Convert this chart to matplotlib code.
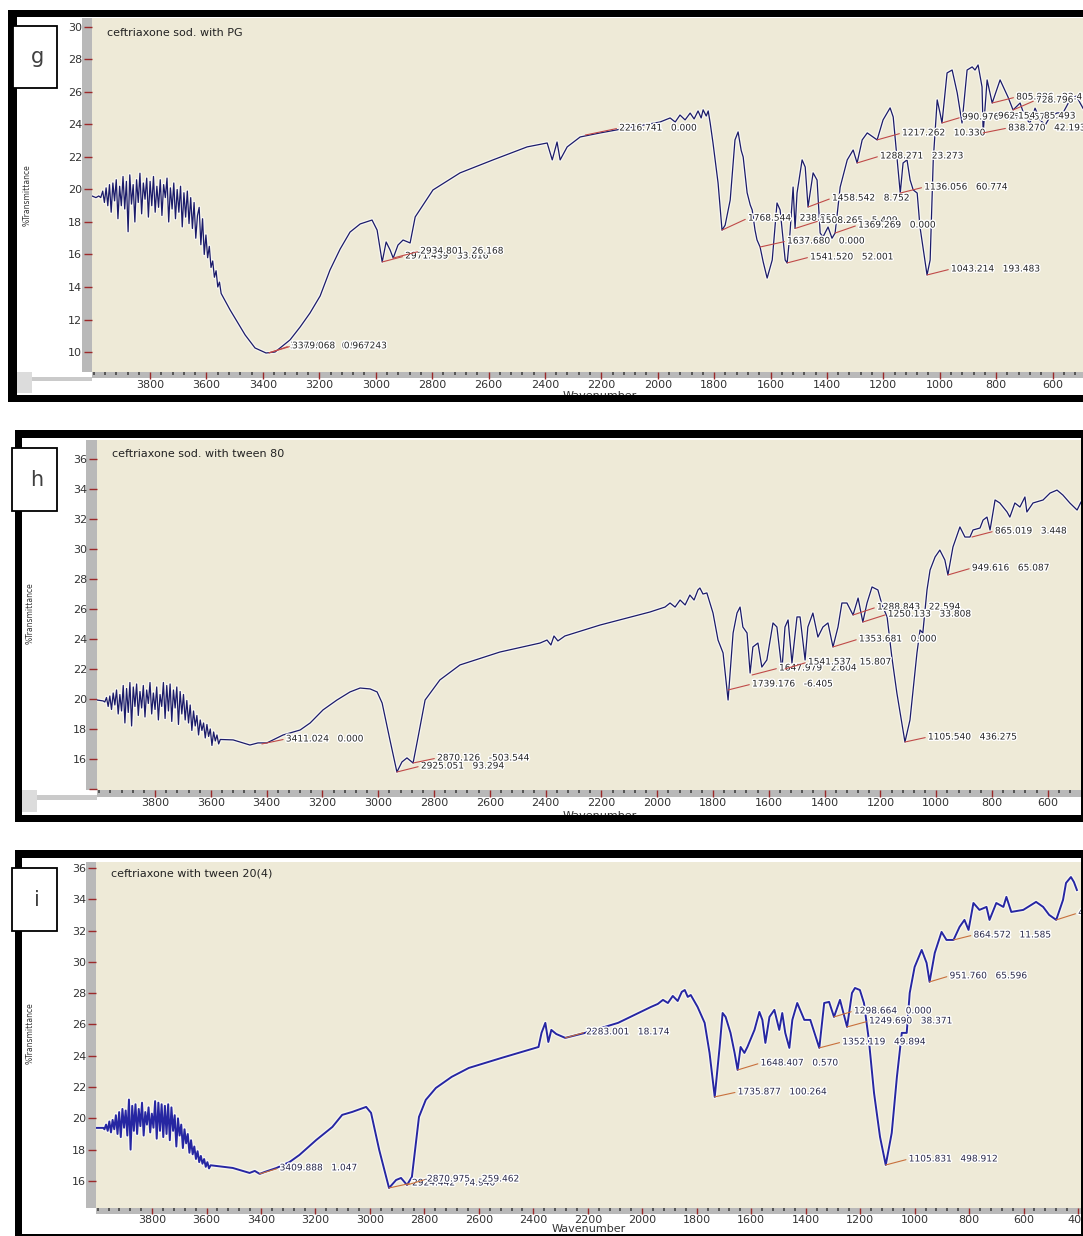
import matplotlib
matplotlib.use("Agg")
import matplotlib.pyplot as plt
import matplotlib.patheffects as pe
from matplotlib.patches import Rectangle
from matplotlib.ticker import FixedLocator, MultipleLocator

W, H = 1083, 1236

# ---------------- spectrum g : ceftriaxone sod. with PG ----------------
g_wn = [4006, 3992, 3982, 3975, 3968,
        3962, 3956, 3950, 3944, 3938, 3932, 3926, 3920, 3914, 3908,
        3902, 3896, 3890, 3884, 3878, 3872, 3866, 3860, 3854, 3848,
        3842, 3836, 3830, 3824, 3818, 3812, 3806, 3800, 3794, 3788,
        3782, 3776, 3770, 3764, 3758, 3752, 3746, 3740, 3734, 3728,
        3722, 3716, 3710, 3704, 3698, 3692, 3686, 3680, 3674, 3668,
        3662, 3656, 3650, 3644, 3638, 3632, 3626, 3620, 3614, 3608,
        3602, 3596, 3590, 3584, 3578, 3572, 3566, 3560, 3554, 3548,
        3516, 3463, 3428, 3389, 3357, 3304, 3268, 3233, 3197, 3162,
        3126, 3091, 3055, 3013, 2995, 2977, 2963, 2949, 2938, 2921,
        2903, 2878, 2860, 2797, 2701, 2584, 2463, 2392, 2374, 2357,
        2346, 2321, 2275, 2204, 2109, 1992, 1956, 1938, 1921, 1903,
        1885, 1871, 1857, 1846, 1839, 1828, 1821, 1814, 1804, 1786,
        1772, 1761, 1743, 1726, 1715, 1704, 1697, 1683, 1672, 1665,
        1655, 1648, 1637, 1626, 1612, 1594, 1577, 1566, 1548, 1541,
        1531, 1520, 1513, 1506, 1488, 1477, 1467, 1449, 1435, 1424,
        1414, 1396, 1382, 1371, 1353, 1328, 1307, 1293, 1275, 1257,
        1222, 1201, 1176, 1165, 1151, 1140, 1130, 1116, 1105, 1094,
        1080, 1070, 1045, 1034, 1023, 1009, 999, 992, 974, 956,
        938, 921, 903, 885, 875, 864, 850, 846, 832, 814,
        786, 758, 740, 715, 697, 680, 662, 644, 626, 609,
        584, 563, 538, 516, 502, 492]
g_t = [19.6, 19.5, 19.6, 19.5, 19.9,
       19.2, 20.1, 19.0, 20.3, 18.6, 20.4, 19.3, 20.6, 18.2, 20.2,
       19.0, 20.8, 18.8, 20.5, 17.4, 20.9, 19.1, 20.3, 18.0, 20.6,
       19.2, 21.0, 18.5, 20.4, 19.4, 20.7, 18.3, 20.5, 19.0, 20.8,
       18.6, 20.2, 18.9, 20.6, 18.4, 20.3, 19.5, 20.7, 18.0, 20.1,
       18.8, 20.4, 18.2, 20.0, 18.6, 20.2, 17.7, 19.8, 18.3, 19.9,
       17.9, 19.5, 17.6, 19.2, 17.0, 18.4, 18.9, 16.6, 18.2, 16.0,
       17.2, 15.8, 16.5, 15.2, 15.6, 14.6, 15.0, 14.0, 14.3, 13.6,
       12.58, 11.05, 10.25, 9.94, 10.0, 10.74, 11.54, 12.4, 13.45, 15.05,
       16.34, 17.38, 17.88, 18.12, 17.5, 15.54, 16.77, 16.28, 15.78, 16.58,
       16.89, 16.71, 18.31, 19.97, 21.02, 21.82, 22.62, 22.86, 21.82, 22.92,
       21.82, 22.62, 23.23, 23.48, 23.78, 24.15, 24.4, 24.15, 24.58, 24.28,
       24.7, 24.34, 24.83, 24.4, 24.9, 24.52, 24.83, 24.09, 22.86, 20.4,
       17.5, 17.8, 19.35, 23.05, 23.54, 22.4, 22.0, 19.8, 19.05, 18.74,
       17.5, 16.9, 16.46, 15.54, 14.55, 15.66, 19.17, 18.74, 15.66, 15.48,
       17.32, 20.15, 17.6, 19.78, 21.82, 21.38, 18.92, 21.02, 20.58, 17.32,
       17.08, 17.69, 17.0, 17.32, 20.15, 21.82, 22.43, 21.63, 23.05, 23.48,
       23.05, 24.28, 25.02, 24.46, 21.82, 19.78, 21.63, 21.82, 20.58, 19.97,
       19.78, 17.69, 14.74, 15.66, 21.82, 25.51, 24.71, 24.09, 27.17, 27.35,
       25.94, 24.09, 27.35, 27.54, 27.35, 27.66, 26.31, 23.48, 26.74, 25.32,
       26.74, 25.69, 24.89, 25.32, 24.4, 24.09, 25.0, 24.28, 23.97, 24.46,
       24.71, 24.71, 25.51, 25.75, 25.32, 25.0]

g_pk_wn = [3378, 3378, 2977, 2938, 2257, 1772, 1637, 1541, 1467, 1513,
           1371, 1293, 1222, 1140, 1045, 992, 992, 846, 814, 740]
g_pk_t = [9.95, 9.95, 15.54, 15.78, 23.35, 17.5, 16.46, 15.48, 18.92, 17.6,
          17.32, 21.63, 23.05, 19.78, 14.74, 24.09, 24.09, 23.48, 25.32, 24.89]
g_pk_txt = ["3378.068   0.975", "3379.068   0.967243",
            "2971.439   33.616", "2934.801   26.168",
            "2216.741   0.000", "1768.544   238.891",
            "1637.680   0.000", "1541.520   52.001",
            "1458.542   8.752", "1508.265   5.409",
            "1369.269   0.000", "1288.271   23.273",
            "1217.262   10.330", "1136.056   60.774",
            "1043.214   193.483", "990.976   151.857",
            "962.154   85.493", "838.270   42.193",
            "805.886   23.401", "728.796   17.540"]

# ---------------- spectrum h : ceftriaxone sod. with tween 80 ----------------
h_wn = [4008, 3986,
        3980, 3974, 3968, 3962, 3956, 3950, 3944, 3938, 3932, 3926,
        3920, 3914, 3908, 3902, 3896, 3890, 3884, 3878, 3872, 3866,
        3860, 3854, 3848, 3842, 3836, 3830, 3824, 3818, 3812, 3806,
        3800, 3794, 3788, 3782, 3776, 3770, 3764, 3758, 3752, 3746,
        3740, 3734, 3728, 3722, 3716, 3710, 3704, 3698, 3692, 3686,
        3680, 3674, 3668, 3662, 3656, 3650, 3644, 3638, 3632, 3626,
        3620, 3614, 3608, 3602, 3596, 3590, 3584, 3578, 3572, 3566,
        3520, 3460, 3431, 3399, 3341, 3280, 3244, 3198, 3148, 3101,
        3065, 3029, 3004, 2986, 2958, 2933, 2915, 2897, 2875, 2857,
        2832, 2779, 2707, 2564, 2420, 2395, 2381, 2370, 2356, 2331,
        2205, 2026, 1972, 1954, 1936, 1918, 1900, 1883, 1868, 1854,
        1847, 1836, 1822, 1800, 1782, 1764, 1746, 1728, 1714, 1703,
        1693, 1678, 1667, 1657, 1639, 1625, 1607, 1585, 1571, 1553,
        1542, 1531, 1517, 1499, 1488, 1470, 1460, 1442, 1424, 1406,
        1388, 1370, 1352, 1338, 1320, 1298, 1280, 1263, 1248, 1230,
        1209, 1194, 1176, 1159, 1141, 1112, 1094, 1069, 1058, 1048,
        1033, 1022, 1004, 987, 969, 958, 940, 915, 897, 879,
        868, 843, 832, 818, 807, 789, 772, 746, 736, 718,
        700, 682, 675, 653, 617, 592, 567, 546, 521, 495,
        481]
h_t = [19.93, 19.87,
       19.8, 20.1, 19.5, 20.2, 19.3, 20.4, 19.6, 20.6, 19.0, 20.3,
       19.2, 20.9, 18.4, 20.7, 19.1, 21.1, 18.2, 20.8, 19.5, 21.0,
       18.9, 20.5, 19.4, 20.9, 18.8, 20.6, 19.7, 21.1, 19.0, 20.4,
       19.3, 20.8, 18.6, 20.3, 19.5, 21.1, 18.7, 20.9, 19.2, 21.0,
       18.5, 20.6, 19.4, 20.8, 18.3, 20.5, 19.0, 20.3, 18.6, 19.9,
       18.4, 19.6, 17.9, 19.2, 18.2, 18.9, 17.6, 18.6, 17.9, 18.4,
       17.4, 18.3, 17.5, 18.0, 16.9, 17.8, 17.2, 17.6, 17.0, 17.3,
       17.27, 16.93, 17.07, 17.07, 17.6, 17.93, 18.4, 19.27, 19.93, 20.47,
       20.73, 20.67, 20.47, 19.73, 17.27, 15.13, 15.8, 16.07, 15.73, 17.47,
       19.93, 21.27, 22.27, 23.13, 23.73, 23.93, 23.6, 24.2, 23.87, 24.2,
       24.93, 25.8, 26.13, 26.4, 26.13, 26.6, 26.27, 26.93, 26.6, 27.27,
       27.4, 27.0, 27.07, 25.73, 23.93, 23.07, 19.93, 24.4, 25.73, 26.13,
       24.8, 24.4, 21.73, 23.47, 23.73, 22.13, 22.6, 25.07, 24.8, 21.93,
       24.8, 25.27, 22.4, 25.47, 25.47, 22.6, 24.8, 25.73, 24.13, 24.8,
       25.07, 23.47, 24.8, 26.4, 26.4, 25.6, 26.73, 25.13, 26.4, 27.47,
       27.27, 26.27, 25.47, 22.8, 20.4, 17.13, 18.6, 23.07, 24.6, 24.4,
       27.27, 28.6, 29.47, 29.93, 29.27, 28.27, 30.13, 31.47, 30.8, 30.8,
       31.27, 31.4, 31.93, 32.13, 31.27, 33.27, 33.07, 32.47, 32.13, 33.07,
       32.8, 33.47, 32.47, 33.07, 33.27, 33.73, 33.93, 33.6, 33.07, 32.6,
       33.13]

h_pk_wn = [3417, 2933, 2875, 1746, 1660, 1542, 1370, 1298, 1263, 1112, 958, 872]
h_pk_t = [17.0, 15.13, 15.73, 20.6, 21.6, 22.0, 23.47, 25.6, 25.13, 17.13, 28.27, 30.8]
h_pk_txt = ["3411.024   0.000", "2925.051   93.294", "2870.126   -503.544",
            "1739.176   -6.405", "1647.979   2.604", "1541.537   15.807",
            "1353.681   0.000", "1288.843   22.594", "1250.133   33.808",
            "1105.540   436.275", "949.616   65.087", "865.019   3.448"]

# ---------------- spectrum i : ceftriaxone with tween 20(4) ----------------
i_wn = [4006, 3979,
        3975, 3969, 3963, 3957, 3951, 3945, 3939, 3933, 3927, 3921,
        3915, 3909, 3903, 3897, 3891, 3885, 3879, 3873, 3867, 3861,
        3855, 3849, 3843, 3837, 3831, 3825, 3819, 3813, 3807, 3801,
        3795, 3789, 3783, 3777, 3771, 3765, 3759, 3753, 3747, 3741,
        3735, 3729, 3723, 3717, 3711, 3705, 3699, 3693, 3687, 3681,
        3675, 3669, 3663, 3657, 3651, 3645, 3639, 3633, 3627, 3621,
        3615, 3609, 3603, 3597, 3591, 3585,
        3504, 3442, 3423, 3405, 3387, 3343, 3295, 3259, 3197, 3138,
        3102, 3065, 3014, 2996, 2966, 2930, 2904, 2886, 2864, 2846,
        2820, 2795, 2758, 2700, 2637, 2517, 2381, 2370, 2356, 2345,
        2334, 2316, 2283, 2210, 2089, 1968, 1943, 1924, 1906, 1888,
        1870, 1855, 1844, 1833, 1822, 1797, 1771, 1753, 1734, 1716,
        1705, 1694, 1676, 1661, 1650, 1639, 1625, 1614, 1588, 1570,
        1559, 1548, 1533, 1515, 1497, 1486, 1475, 1460, 1449, 1431,
        1405, 1383, 1350, 1332, 1314, 1296, 1274, 1248, 1230, 1219,
        1201, 1186, 1168, 1149, 1127, 1106, 1084, 1065, 1047, 1029,
        1018, 1000, 974, 956, 945, 926, 901, 883, 857, 835,
        817, 802, 784, 762, 736, 725, 700, 674, 663, 645,
        601, 554, 528, 506, 480, 455, 444, 426, 415, 404]
i_t = [19.39, 19.39,
       19.3, 19.6, 19.2, 19.8, 19.1, 19.9, 19.3, 20.2, 19.0, 20.4,
       18.8, 20.6, 19.4, 20.5, 18.9, 21.2, 18.0, 20.8, 19.2, 20.9,
       19.0, 20.6, 19.5, 21.0, 18.9, 20.4, 19.6, 20.7, 19.1, 20.3,
       19.4, 21.1, 18.7, 21.0, 19.2, 20.9, 18.8, 20.8, 19.0, 20.9,
       18.6, 20.7, 19.2, 20.2, 18.2, 20.0, 18.9, 19.6, 18.1, 19.3,
       18.4, 19.0, 17.8, 18.6, 17.7, 18.2, 17.4, 17.9, 17.2, 17.6,
       17.1, 17.4, 16.9, 17.2, 16.8, 17.0,
       16.83, 16.51, 16.64, 16.45, 16.57, 16.83, 17.21, 17.66, 18.62, 19.45,
       20.22, 20.41, 20.73, 20.35, 17.98, 15.55, 16.06, 16.19, 15.74, 16.26,
       20.09, 21.18, 21.94, 22.65, 23.22, 23.86, 24.56, 25.46, 26.1, 24.88,
       25.65, 25.39, 25.14, 25.46, 26.1, 27.12, 27.31, 27.57, 27.37, 27.82,
       27.5, 28.08, 28.2, 27.76, 27.88, 27.12, 26.1, 24.18, 21.37, 24.56,
       26.73, 26.48, 25.46, 24.18, 23.09, 24.56, 24.18, 24.56, 25.65, 26.8,
       26.29, 24.82, 26.48, 26.93, 25.65, 26.73, 25.46, 24.5, 26.29, 27.37,
       26.29, 26.29, 24.5, 27.37, 27.44, 26.48, 27.57, 25.84, 28.01, 28.33,
       28.2, 27.37, 25.01, 21.62, 18.81, 17.02, 19.07, 22.65, 25.46, 25.46,
       28.01, 29.67, 30.76, 29.93, 28.72, 30.57, 31.91, 31.4, 31.4, 32.23,
       32.68, 32.04, 33.76, 33.32, 33.51, 32.68, 33.76, 33.51, 34.15, 33.19,
       33.32, 33.83, 33.51, 33.0, 32.68, 33.96, 35.04, 35.42, 35.1, 34.59]

i_pk_wn = [3405, 2930, 2864, 2283, 1734, 1650, 1350, 1296, 1248, 1106, 945, 857, 480]
i_pk_t = [16.45, 15.55, 15.74, 25.14, 21.37, 23.09, 24.5, 26.48, 25.84, 17.02, 28.72, 31.4, 32.68]
i_pk_txt = ["3409.888   1.047", "2924.442   74.940", "2870.975   -259.462",
            "2283.001   18.174", "1735.877   100.264", "1648.407   0.570",
            "1352.119   49.894", "1298.664   0.000", "1249.690   38.371",
            "1105.831   498.912", "951.760   65.596", "864.572   11.585",
            "476.281   21.563"]

# label offsets (pixels right, pixels up) from each peak to its text
g_off = [(21, 7), (23, 7), (23, 6), (27, 7), (34, 7), (26, 12), (27, 6), (23, 6),
         (24, 9), (25, 8), (23, 8), (23, 7), (25, 7), (24, 6), (24, 6), (20, 6),
         (56, 7), (25, 5), (24, 6), (23, 10)]
g_lead = [True] * 16 + [False] + [True] * 3
h_off = [(24, 5), (24, 6), (24, 5), (24, 6), (27, 7), (23, 7), (26, 8), (24, 8),
         (25, 8), (23, 5), (24, 7), (23, 6)]
h_lead = [True] * 12
i_off = [(20, 6), (23, 5), (20, 6), (21, 6), (23, 5), (23, 7), (23, 6), (20, 6),
         (22, 6), (23, 6), (20, 6), (20, 5), (22, 7)]
i_lead = [True] * 13

BEIGE = "#eeead7"
STRIP = "#b9b9b9"
TICK_RED = "#9b2a2a"

fig = plt.figure(figsize=(W / 100, H / 100), dpi=100)


def frac(x0, y0, x1, y1):
    return [x0 / W, 1 - y1 / H, (x1 - x0) / W, (y1 - y0) / H]


def rect(x0, y0, x1, y1, color, z, ec="none", lw=0):
    r = Rectangle((x0 / W, 1 - y1 / H), (x1 - x0) / W, (y1 - y0) / H,
                  transform=fig.transFigure, facecolor=color, edgecolor=ec,
                  linewidth=lw, zorder=z)
    fig.add_artist(r)


def ftext(x, y, s, **kw):
    fig.text(x / W, 1 - y / H, s, **kw)


panels = [
    dict(plot=(92, 18, 1083, 372), ystrip=82, xstrip=378, xlim=(4006, 492), ylim=(8.77, 30.55),
         yticks=list(range(10, 31, 2)), skip=[], title="ceftriaxone sod. with PG", ty=33,
         wave=(600, 396), box=(13, 26, 57, 88), letter="g", trans=(27, 195),
         border=dict(left=(8, 10, 17, 402), top=(8, 10, 1083, 17), bottom=(8, 395, 1083, 402)),
         shadow=[(17, 372, 32, 393, "#dcdcdc"), (32, 377, 92, 381, "#cacaca")],
         line="#1b1b6a", lw=0.9, lead="#c04a48", txt="#262626", xlen=5, xpad=1.0),
    dict(plot=(97, 440, 1081, 790), ystrip=86, xstrip=797, xlim=(4008, 481), ylim=(13.93, 37.27),
         yticks=list(range(14, 37, 2)), skip=[14], title="ceftriaxone sod. with tween 80", ty=454,
         wave=(600, 816), box=(12, 448, 57, 511), letter="h", trans=(30, 613),
         border=dict(left=(15, 430, 22, 822), top=(15, 430, 1083, 438), bottom=(15, 815, 1083, 822),
                     right=(1081, 430, 1083, 822)),
         shadow=[(22, 790, 37, 812, "#dcdcdc"), (37, 795, 97, 800, "#cacaca")],
         line="#1b1b6a", lw=0.9, lead="#c04a48", txt="#262626", xlen=5, xpad=1.0),
    dict(plot=(96, 862, 1081, 1208), ystrip=86, xstrip=1214, xlim=(4006, 389), ylim=(14.27, 36.38),
         yticks=list(range(16, 37, 2)), skip=[], title="ceftriaxone with tween 20(4)", ty=874,
         wave=(589, 1229), box=(12, 868, 57, 931), letter="i", trans=(30, 1033),
         border=dict(left=(15, 850, 22, 1236), top=(15, 850, 1083, 858), bottom=(15, 1234, 1083, 1236),
                     right=(1081, 850, 1083, 1236)),
         shadow=[],
         line="#2626a2", lw=1.4, lead="#c8703c", txt="#2a2a4a", xlen=4, xpad=0.8),
]

series = [
    (g_wn, g_t, g_pk_wn, g_pk_t, g_pk_txt, g_off, g_lead),
    (h_wn, h_t, h_pk_wn, h_pk_t, h_pk_txt, h_off, h_lead),
    (i_wn, i_t, i_pk_wn, i_pk_t, i_pk_txt, i_off, i_lead),
]

halo_txt = [pe.withStroke(linewidth=2, foreground="white")]

for cfg, (wn, t, pw, pt, ptxt, poff, plead) in zip(panels, series):
    x0, y0, x1, y1 = cfg["plot"]
    ax = fig.add_axes(frac(x0, y0, x1, y1))
    ax.set_facecolor(BEIGE)
    ax.plot(wn, t, color=cfg["line"], lw=cfg["lw"],
            path_effects=[pe.Stroke(linewidth=cfg["lw"] + 1.8, foreground="white", alpha=0.6),
                          pe.Normal()])
    ax.set_xlim(*cfg["xlim"])
    ax.set_ylim(*cfg["ylim"])
    for s in ax.spines.values():
        s.set_visible(False)

    ax.xaxis.set_major_locator(FixedLocator(list(range(3800, 399, -200))))
    ax.xaxis.set_minor_locator(MultipleLocator(40))
    ax.set_yticks(cfg["yticks"],
                  labels=["" if v in cfg["skip"] else str(v) for v in cfg["yticks"]])
    ax.tick_params(axis="y", which="major", direction="out", length=6, width=1.0,
                   color=TICK_RED, labelsize=8, labelcolor="#333333", pad=1)
    ax.tick_params(axis="x", which="major", direction="out", length=cfg["xlen"], width=1.0,
                   color=TICK_RED, labelsize=8, labelcolor="#333333", pad=cfg["xpad"])
    ax.tick_params(axis="x", which="minor", direction="out", length=2, width=1.2,
                   color="#444444")

    # peak labels with leader lines
    for w, v, s, (dx, dy), lead in zip(pw, pt, ptxt, poff, plead):
        kw = {}
        if lead:
            kw["arrowprops"] = dict(arrowstyle="-", color=cfg["lead"], lw=0.8,
                                    shrinkA=0, shrinkB=0, relpos=(0, 0.5))
        ax.annotate(s, xy=(w, v), xytext=(dx, dy), textcoords="offset pixels",
                    ha="left", va="center", fontsize=6.5, color=cfg["txt"],
                    annotation_clip=False, clip_on=True, path_effects=halo_txt, **kw)

    # grey axis strips
    rect(cfg["ystrip"], y0, x0, y1, STRIP, -1)
    rect(x0, y1, x1, cfg["xstrip"], STRIP, -1)
    for sx0, sy0, sx1, sy1, c in cfg["shadow"]:
        rect(sx0, sy0, sx1, sy1, c, -1)

    ftext(x0 + 15, cfg["ty"], cfg["title"], ha="left", va="center", fontsize=8,
          color="#222222", zorder=3)
    ftext(cfg["wave"][0], cfg["wave"][1], "Wavenumber", ha="center", va="center",
          fontsize=8, color="#333333", zorder=3)
    ftext(cfg["trans"][0], cfg["trans"][1], "%Transmittance", ha="center", va="center",
          rotation=90, fontsize=5.5, color="#333333", zorder=3)

    # black frame around each panel
    for bx0, by0, bx1, by1 in cfg["border"].values():
        rect(bx0, by0, bx1, by1, "black", 5)

    # panel letter box
    bx0, by0, bx1, by1 = cfg["box"]
    rect(bx0, by0, bx1, by1, "white", 6, ec="black", lw=1.3)
    ftext((bx0 + bx1) / 2 + 2, (by0 + by1) / 2, cfg["letter"], ha="center", va="center",
          fontsize=15, color="#404040", zorder=7)

fig.savefig("out.png", dpi=100)
